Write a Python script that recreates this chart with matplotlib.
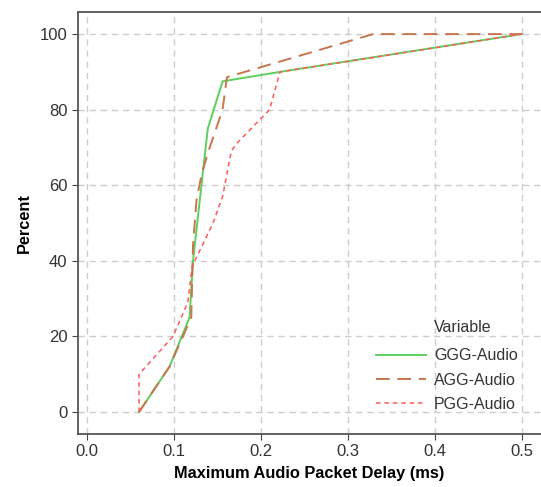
import matplotlib
matplotlib.use("Agg")
from matplotlib import pyplot as plt

plt.rcParams['font.family'] = ['Liberation Sans', 'DejaVu Sans']

# data
ggg_x = [0.06, 0.095, 0.118, 0.122, 0.139, 0.156, 0.222, 0.444, 0.5]
ggg_y = [0, 12, 25, 40, 75, 87.5, 90, 98, 100]

agg_x = [0.06, 0.095, 0.12, 0.122, 0.126, 0.132, 0.139, 0.156, 0.161, 0.329, 0.5]
agg_y = [0, 12, 25, 44, 56, 63, 68.5, 80, 88.6, 100, 100]

pgg_x = [0.06, 0.06, 0.099, 0.116, 0.121, 0.145, 0.156, 0.166, 0.172, 0.21, 0.222, 0.398, 0.5]
pgg_y = [0, 10, 20, 29, 38.5, 50, 57, 69, 71, 80, 90, 96.3, 100]

x_ticks = [0.0, 0.1, 0.2, 0.3, 0.4, 0.5]
y_ticks = [0, 20, 40, 60, 80, 100]

fig = plt.figure(figsize=(5.41, 4.87), dpi=100)
ax = fig.add_axes([0.144, 0.109, 0.856, 0.866])

ax.plot(ggg_x, ggg_y, color='#5ccf5c', lw=1.4, label='GGG-Audio')
ax.plot(agg_x, agg_y, color='#c8754e', lw=1.4, dashes=(7, 4), label='AGG-Audio')
ax.plot(pgg_x, pgg_y, color='#ff5a5a', lw=1.1, dashes=(3, 2.5), label='PGG-Audio')

ax.set_xlim(-0.0103, 0.522)
ax.set_ylim(-5.8, 105.8)
ax.set_xticks(x_ticks)
ax.set_xticklabels(['0.0', '0.1', '0.2', '0.3', '0.4', '0.5'])
ax.set_yticks(y_ticks)
ax.tick_params(labelsize=12, color='#444444', length=4, labelcolor='#333333')
ax.grid(True, color='#cccccc', ls=(0, (4.5, 3.5)), lw=1)
ax.set_axisbelow(True)
for s in ['left', 'bottom', 'top']:
    ax.spines[s].set_color('#555555')
    ax.spines[s].set_linewidth(1.3)
ax.spines['right'].set_visible(False)

ax.set_xlabel('Maximum Audio Packet Delay (ms)', fontsize=11.8, fontweight='bold', labelpad=5)
ax.set_ylabel('Percent', fontsize=11.8, fontweight='bold', labelpad=6)

leg = ax.legend(loc='upper left', bbox_to_anchor=(370 / 541, (487 - 342) / 487),
                bbox_transform=fig.transFigure, frameon=False, fontsize=11.5,
                handlelength=3.1, labelspacing=0.58, handletextpad=0.5,
                borderaxespad=0)
for t in leg.get_texts():
    t.set_color('#333333')
fig.text(434 / 541, (487 - 327) / 487, 'Variable', fontsize=11.5, color='#333333',
         va='center', ha='left')

fig.savefig('out.png', dpi=100)
